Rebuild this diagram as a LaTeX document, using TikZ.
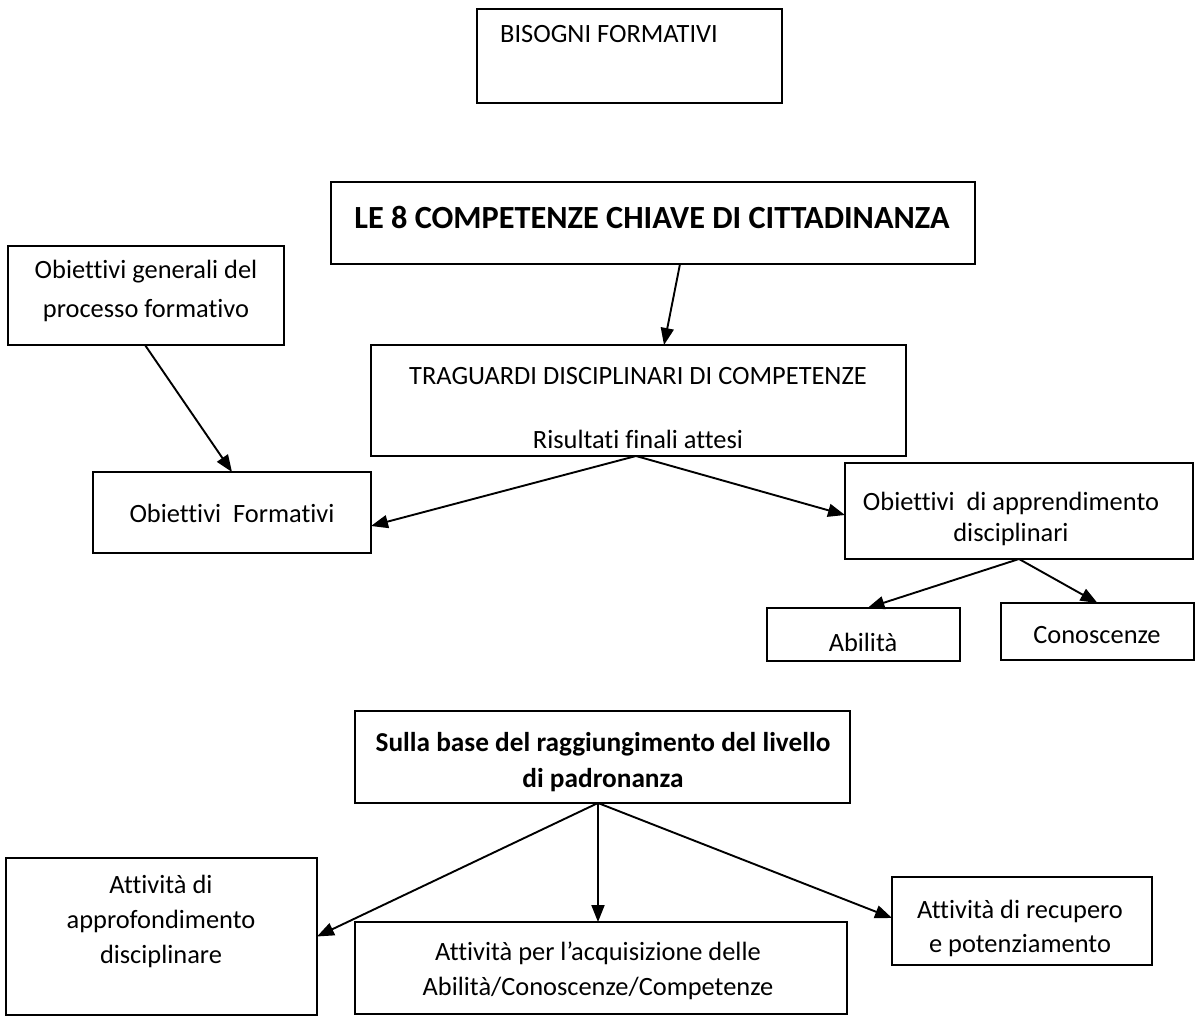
\documentclass[tikz,border=0pt]{standalone}
\usepackage{fontspec}
\setmainfont[Ligatures={NoCommon}]{Carlito}
\usetikzlibrary{arrows.meta}
\begin{document}
\begin{tikzpicture}[x=1pt,y=-1pt,
  box/.style={draw,line width=1.6pt,inner sep=0pt,outer sep=0pt,anchor=center},
  txt/.style={inner sep=0pt,align=center,font=\fontsize{26.4}{37}\selectfont},
  btxt/.style={inner sep=0pt,align=center,font=\fontsize{27.3}{36}\selectfont\bfseries},
  arr/.style={line width=1.9pt,-{Triangle[length=17pt,width=13pt]}}]
\useasboundingbox (0,0) rectangle (1195,1016);
% boxes
\node[box,minimum width=305,minimum height=94] (bis) at (629.5,56) {};
\node[box,minimum width=644,minimum height=82] (le8) at (653,223) {};
\node[box,minimum width=276,minimum height=99] (gen) at (146,295.5) {};
\node[box,minimum width=535,minimum height=111] (trag) at (638.5,400.5) {};
\node[box,minimum width=278,minimum height=81] (objf) at (232,512.5) {};
\node[box,minimum width=348,minimum height=96] (oda) at (1019,511) {};
\node[box,minimum width=193,minimum height=53] (abil) at (863.5,634.5) {};
\node[box,minimum width=193,minimum height=57] (cono) at (1097.5,631.5) {};
\node[box,minimum width=495,minimum height=92] (sulla) at (602.5,757) {};
\node[box,minimum width=311,minimum height=157] (appr) at (161.5,936.5) {};
\node[box,minimum width=492,minimum height=92] (acq) at (601,968) {};
\node[box,minimum width=260,minimum height=88] (recu) at (1022,921) {};
% texts
\node[txt,anchor=west] (bisT) at (500,34) {BISOGNI FORMATIVI};
\node[inner sep=0pt,font=\fontsize{32.3}{36}\selectfont\bfseries] (le8T) at (652,217) {LE 8 COMPETENZE CHIAVE DI CITTADINANZA};
\node[txt,font=\fontsize{26.4}{39}\selectfont] (genT) at (146,291) {Obiettivi generali del\\processo formativo};
\node[txt] (tragT1) at (638,376) {TRAGUARDI DISCIPLINARI DI COMPETENZE};
\node[txt] (tragT2) at (638,439) {Risultati finali attesi};
\node[txt] (objfT) at (232,513) {Obiettivi\ \ Formativi};
\node[txt,font=\fontsize{26.4}{31}\selectfont] (odaT) at (1011,519) {Obiettivi\ \ di apprendimento\\disciplinari};
\node[txt] (abilT) at (863,642) {Abilità};
\node[txt] (conoT) at (1097,635) {Conoscenze};
\node[btxt] (sullaT) at (603,762) {Sulla base del raggiungimento del livello\\di padronanza};
\node[txt,font=\fontsize{26.4}{35}\selectfont] (apprT) at (161,921) {Attività di\\approfondimento\\disciplinare};
\node[txt,font=\fontsize{26.4}{35}\selectfont] (acqT) at (598,970.5) {Attività per l’acquisizione delle\\Abilità/Conoscenze/Competenze};
\node[txt,font=\fontsize{26.4}{34}\selectfont] (recuT) at (1020,928) {Attività di recupero\\e potenziamento};
% arrows
\draw[arr] ([xshift=27pt]le8.south) -- ([xshift=25.5pt]trag.north);
\draw[arr] ([xshift=-1pt]gen.south) -- (objf.north);
\draw[arr] ([xshift=-2.5pt]trag.south) -- ([yshift=-13.5pt]objf.east);
\draw[arr] ([xshift=-2.5pt]trag.south) -- ([yshift=-4pt]oda.west);
\draw[arr] (oda.south) -- ([xshift=4pt]abil.north);
\draw[arr] (oda.south) -- (cono.north);
\draw[arr] ([xshift=-4.5pt]sulla.south) -- (appr.east);
\draw[arr] ([xshift=-4.5pt]sulla.south) -- ([xshift=-3pt]acq.north);
\draw[arr] ([xshift=-4.5pt]sulla.south) -- ([yshift=3pt]recu.west);
\end{tikzpicture}
\end{document}
